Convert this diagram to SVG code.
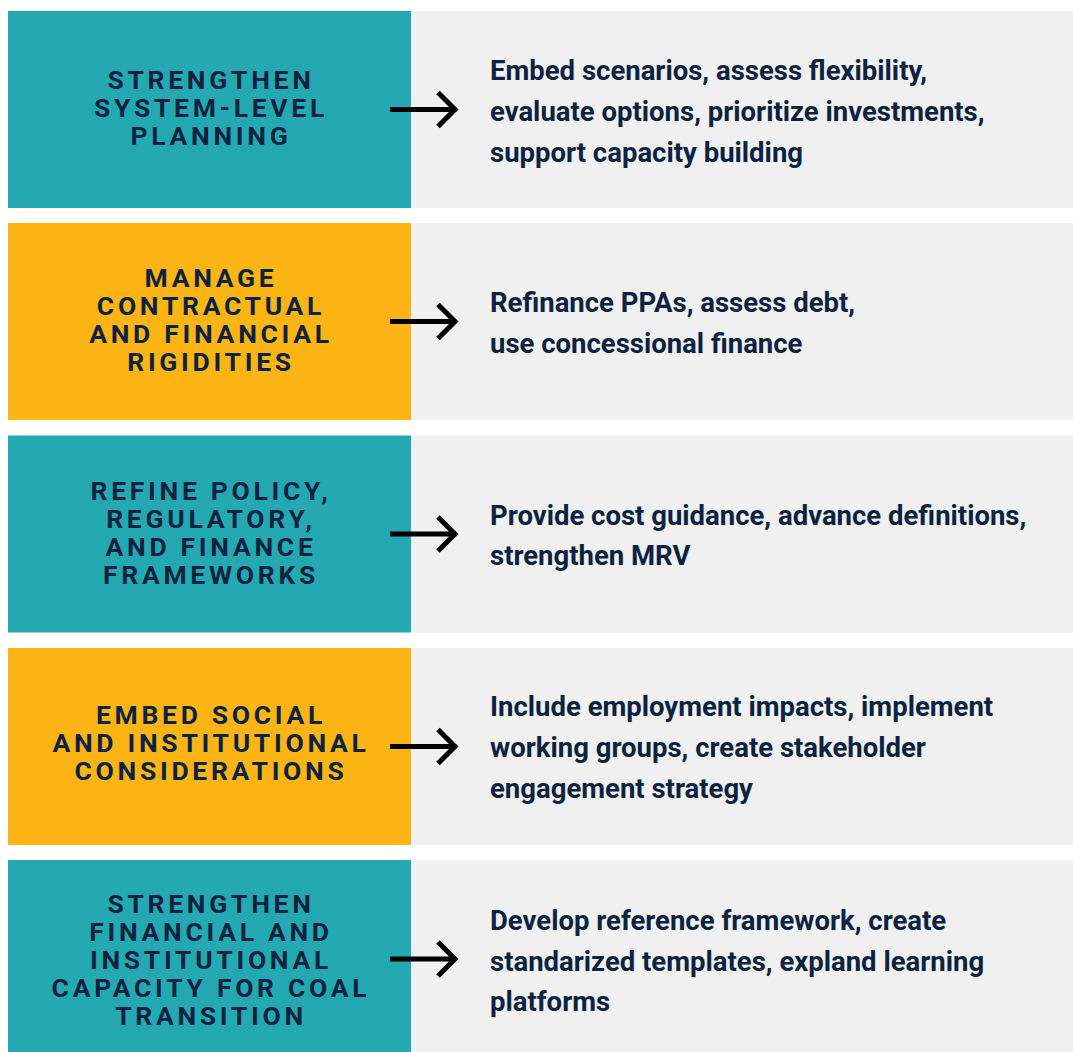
<svg xmlns="http://www.w3.org/2000/svg" width="1073" height="1052" viewBox="0 0 1073 1052">
  <style>
    .teal { fill: #24A9B3; }
    .gold { fill: #FDB515; }
    .panel { fill: #F0F0F0; }
    .head { font-family: Roboto, "Liberation Sans", sans-serif; font-weight: 700; font-size: 26.5px; letter-spacing: 3.7px; fill: #0B2340; text-anchor: middle; }
    .body { font-family: Roboto, "Liberation Sans", sans-serif; font-weight: 700; font-size: 27.5px; fill: #0B2340; }
    .arrow { fill: none; stroke: #000; stroke-width: 5; }
  </style>
  <defs>
    <g id="arrow">
      <path class="arrow" d="M390 0 H454 M438 -17 L455 0 L438 17"/>
    </g>
  </defs>
  <rect width="1073" height="1052" fill="#FFFFFF"/>

  <g id="row1">
    <rect class="panel" x="411" y="11" width="662" height="197"/>
    <rect class="teal" x="8" y="11" width="403" height="197"/>
    <text class="head"><tspan x="211" y="89">STRENGTHEN</tspan><tspan x="211" y="117">SYSTEM-LEVEL</tspan><tspan x="211" y="145">PLANNING</tspan></text>
    <text class="body"><tspan x="490" y="80">Embed scenarios, assess flexibility,</tspan><tspan x="490" y="121">evaluate options, prioritize investments,</tspan><tspan x="490" y="162">support capacity building</tspan></text>
  </g>

  <g id="row2">
    <rect class="panel" x="411" y="223" width="662" height="197"/>
    <rect class="gold" x="8" y="223" width="403" height="197"/>
    <text class="head"><tspan x="211" y="287">MANAGE</tspan><tspan x="211" y="315">CONTRACTUAL</tspan><tspan x="211" y="343">AND FINANCIAL</tspan><tspan x="211" y="371">RIGIDITIES</tspan></text>
    <text class="body"><tspan x="490" y="312">Refinance PPAs, assess debt,</tspan><tspan x="490" y="353">use concessional finance</tspan></text>
  </g>

  <g id="row3">
    <rect class="panel" x="411" y="435.5" width="662" height="197"/>
    <rect class="teal" x="8" y="435.5" width="403" height="197"/>
    <text class="head"><tspan x="211" y="500">REFINE POLICY,</tspan><tspan x="211" y="528">REGULATORY,</tspan><tspan x="211" y="556">AND FINANCE</tspan><tspan x="211" y="584">FRAMEWORKS</tspan></text>
    <text class="body"><tspan x="490" y="525">Provide cost guidance, advance definitions,</tspan><tspan x="490" y="565">strengthen MRV</tspan></text>
  </g>

  <g id="row4">
    <rect class="panel" x="411" y="648" width="662" height="197"/>
    <rect class="gold" x="8" y="648" width="403" height="197"/>
    <text class="head"><tspan x="211" y="724">EMBED SOCIAL</tspan><tspan x="211" y="752">AND INSTITUTIONAL</tspan><tspan x="211" y="780">CONSIDERATIONS</tspan></text>
    <text class="body"><tspan x="490" y="716">Include employment impacts, implement</tspan><tspan x="490" y="757">working groups, create stakeholder</tspan><tspan x="490" y="798">engagement strategy</tspan></text>
  </g>

  <g id="row5">
    <rect class="panel" x="411" y="860" width="662" height="197"/>
    <rect class="teal" x="8" y="860" width="403" height="197"/>
    <text class="head"><tspan x="211" y="913">STRENGTHEN</tspan><tspan x="211" y="941">FINANCIAL AND</tspan><tspan x="211" y="969">INSTITUTIONAL</tspan><tspan x="211" y="997">CAPACITY FOR COAL</tspan><tspan x="211" y="1025">TRANSITION</tspan></text>
    <text class="body"><tspan x="490" y="930">Develop reference framework, create</tspan><tspan x="490" y="971">standarized templates, expland learning</tspan><tspan x="490" y="1011">platforms</tspan></text>
  </g>

  <g id="connectors">
    <use href="#arrow" y="109.5"/>
    <use href="#arrow" y="321.5"/>
    <use href="#arrow" y="534"/>
    <use href="#arrow" y="746.5"/>
    <use href="#arrow" y="959"/>
  </g>
</svg>
